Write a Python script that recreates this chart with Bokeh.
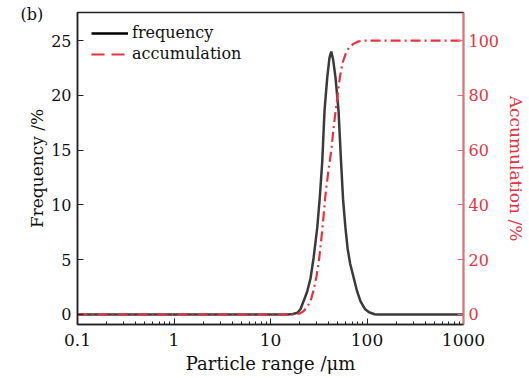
from bokeh.plotting import figure
from bokeh.models import Range1d, LinearAxis, Label, Legend, LegendItem, FixedTicker
from bokeh.embed import file_html
from bokeh.resources import INLINE

# Frequency distribution (particle size in um, frequency in %)
size_freq = [0.1, 15, 17, 19, 20.5, 22, 24, 26, 28, 30.5, 32.5, 34.4, 36.3, 38.7, 40.8,
             42.6, 44.5, 47.2, 50.7, 53.8, 56.5, 59.8, 63, 67, 73, 79, 85.7, 95, 105,
             120, 130, 1000]
frequency = [0, 0, 0.05, 0.15, 0.5, 1.2, 2.1, 3.3, 5.2, 7.9, 10.8, 14, 18.6, 21.6, 23.4,
             24, 23.3, 21.6, 18.6, 14, 10.5, 7.9, 6.0, 4.6, 3.3, 2.1, 1.2, 0.5, 0.2,
             0.02, 0, 0]

# Accumulation (%)
size_acc = [0.1, 18, 20, 22, 24, 26, 28, 30, 31.7, 33.5, 35.5, 37.2, 39, 40.8, 43, 45,
            47.2, 50, 52.3, 56, 59.8, 65, 72.4, 80, 90, 1000]
accumulation = [0, 0, 0.3, 1.2, 2.8, 4.8, 9, 14, 19.4, 27, 36, 44, 50, 55, 61, 68,
                74, 81, 86.6, 92, 95, 97.5, 98.8, 99.6, 100, 100]

x_ticks = [0.1, 1, 10, 100, 1000]
x_tick_labels = ["0.1", "1", "10", "100", "1000"]
left_ticks = [0, 5, 10, 15, 20, 25]
right_ticks = [0, 20, 40, 60, 80, 100]

FONT = "DejaVu Serif"
BLACK = "#3a3a3a"
RED = "#e8323e"
RED_AX = "#ef6b73"

p = figure(width=529, height=378, x_axis_type="log", output_backend="svg",
           toolbar_location=None, x_range=Range1d(0.1, 1000),
           y_range=Range1d(-0.916, 27.56),
           min_border_left=77, min_border_right=66, min_border_top=12, min_border_bottom=54)
p.extra_y_ranges = {"acc": Range1d(-3.66, 110.26)}
p.xgrid.visible = False
p.ygrid.visible = False
p.outline_line_color = "#222222"
p.outline_line_width = 1.5
p.background_fill_color = "white"
p.border_fill_color = "white"

r_freq = p.line(size_freq, frequency, line_color=BLACK, line_width=2.5)
r_acc = p.line(size_acc, accumulation, line_color=RED, line_width=2.2,
               line_dash="10 4 2 4", y_range_name="acc")

# legend proxies (no visible data)
nan = float("nan")
lf = p.line([1, 1], [nan, nan], line_color="black", line_width=2.5)
la = p.line([1, 1], [nan, nan], line_color=RED, line_width=2.2, line_dash="13 7")

legend = Legend(items=[LegendItem(label="frequency", renderers=[lf]),
                       LegendItem(label="accumulation", renderers=[la])],
                location=(14, 261), padding=0, margin=0, spacing=2,
                glyph_width=37, glyph_height=18, label_height=18, label_standoff=4,
                label_text_font=FONT, label_text_font_size="16px",
                label_text_color="#111111",
                border_line_color=None, background_fill_alpha=0)
p.add_layout(legend, "center")

xa = p.xaxis[0]
xa.ticker = FixedTicker(ticks=x_ticks, minor_ticks=[m * 10 ** e for e in range(-1, 3) for m in range(2, 10)])
xa.major_label_overrides = {t: l for t, l in zip(x_ticks, x_tick_labels)}
xa.axis_label = "Particle range /\u03bcm"

ya = p.yaxis[0]
ya.ticker = FixedTicker(ticks=left_ticks)
ya.axis_label = "Frequency /%"

for ax in (xa, ya):
    ax.axis_line_color = "#222222"
    ax.axis_line_width = 1.5
    ax.major_tick_in = 6
    ax.major_tick_out = 0
    ax.minor_tick_in = 3
    ax.minor_tick_out = 0
    ax.major_tick_line_color = "#222222"
    ax.minor_tick_line_color = "#222222"
    ax.major_label_text_font = FONT
    ax.major_label_text_font_size = "17px"
    ax.major_label_text_color = "#111111"
    ax.axis_label_text_font = FONT
    ax.axis_label_text_font_size = "18px"
    ax.axis_label_text_font_style = "normal"
    ax.axis_label_text_color = "#111111"
ya.minor_tick_line_color = None
ya.major_label_text_font_size = "16px"
ya.axis_label_text_font_size = "17px"
xa.major_label_standoff = 9
xa.axis_label_standoff = 4
ya.major_label_standoff = 6
ya.axis_label_standoff = 1

ra = LinearAxis(y_range_name="acc", ticker=FixedTicker(ticks=right_ticks),
                axis_label="Accumulation /%")
ra.axis_line_color = RED_AX
ra.axis_line_width = 1.5
ra.major_tick_in = 6
ra.major_tick_out = 0
ra.minor_tick_line_color = None
ra.major_tick_line_color = RED_AX
ra.major_label_text_font = FONT
ra.major_label_text_font_size = "16px"
ra.major_label_text_color = RED
ra.axis_label_text_font = FONT
ra.axis_label_text_font_size = "17px"
ra.axis_label_text_font_style = "normal"
ra.axis_label_text_color = RED
ra.major_label_standoff = 5
ra.axis_label_standoff = 4
p.add_layout(ra, "right")

# panel label "(b)" placed in the left side panel so it is not clipped to the frame
p.add_layout(Label(x=20, y=14, x_units="canvas", y_units="canvas", text="(b)",
                   text_font=FONT, text_font_size="16px", text_baseline="middle",
                   text_color="#111111"), "left")

open("out.html", "w").write(file_html(p, INLINE))
